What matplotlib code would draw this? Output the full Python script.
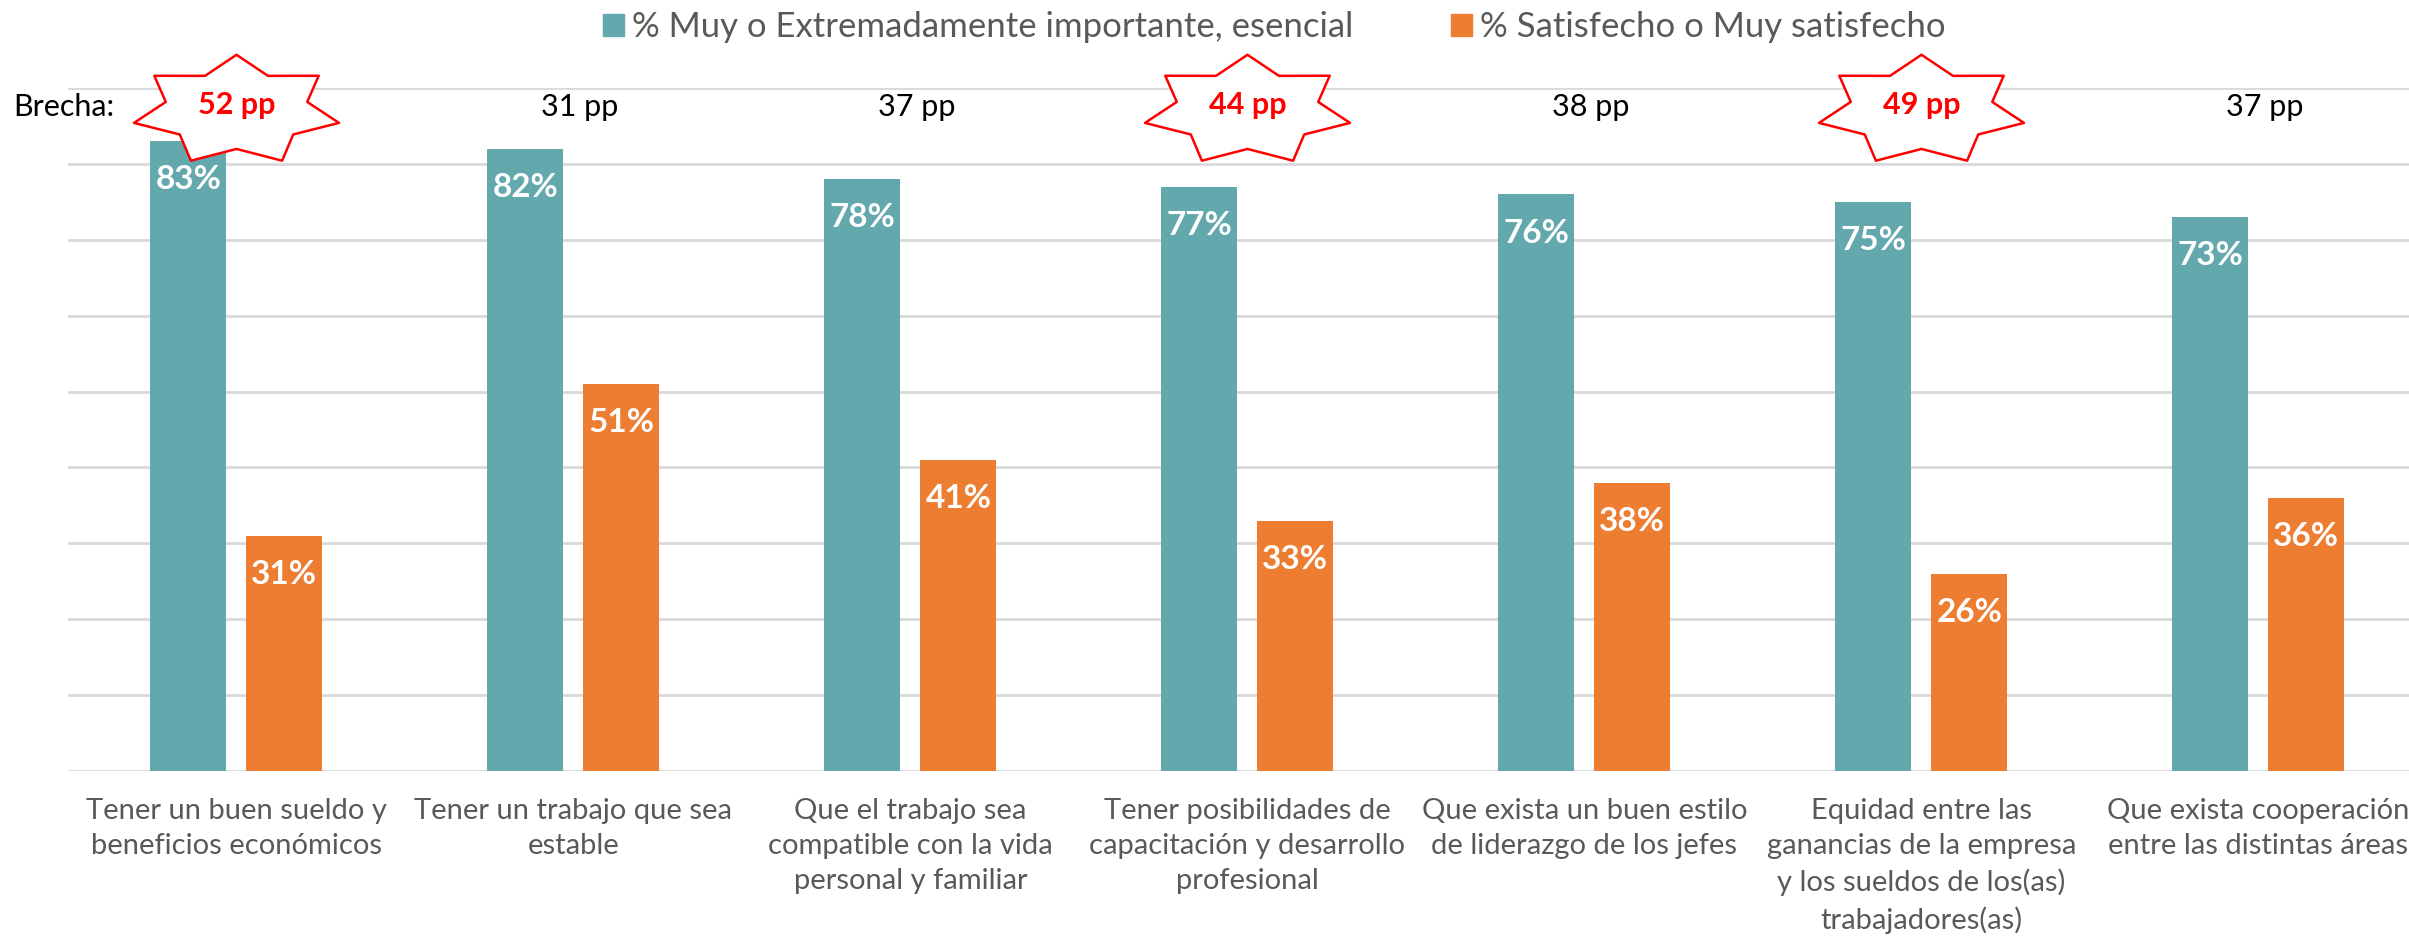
import numpy as np
import matplotlib
matplotlib.use('Agg')
import matplotlib.pyplot as plt
from matplotlib.path import Path
from matplotlib.patches import Patch

plt.rcParams['font.family'] = ['Lato', 'DejaVu Sans']

# Data
categories = [
    'Tener un buen sueldo y\nbeneficios económicos',
    'Tener un trabajo que sea\nestable',
    'Que el trabajo sea\ncompatible con la vida\npersonal y familiar',
    'Tener posibilidades de\ncapacitación y desarrollo\nprofesional',
    'Que exista un buen estilo\nde liderazgo de los jefes',
    'Equidad entre las\nganancias de la empresa\ny los sueldos de los(as)\ntrabajadores(as)',
    'Que exista cooperación\nentre las distintas áreas',
]
importante = [83, 82, 78, 77, 76, 75, 73]
satisfecho = [31, 51, 41, 33, 38, 26, 36]
brecha = [52, 31, 37, 44, 38, 49, 37]
destacar = [True, False, False, True, False, True, False]

label_imp = '% Muy o Extremadamente importante, esencial'
label_sat = '% Satisfecho o Muy satisfecho'

teal = '#62A8AC'
orange = '#ED7D31'
grey_text = '#595959'
grid_col = '#D9D9D9'

fig = plt.figure(figsize=(24.09, 9.43), dpi=100)
ax = fig.add_axes([0.0282, 0.1824, 0.9792, 0.7243])

x = np.arange(len(categories))
w = 0.2255
off = 0.1424

b1 = ax.bar(x - off, importante, w, color=teal, zorder=2)
b2 = ax.bar(x + off, satisfecho, w, color=orange, zorder=2)

# value labels inside the bars
for bars, vals in [(b1, importante), (b2, satisfecho)]:
    for rect, v in zip(bars, vals):
        ax.annotate(f'{v}%', xy=(rect.get_x() + rect.get_width() / 2, v),
                    xytext=(0, -28), textcoords='offset points',
                    ha='center', va='center', color='white',
                    fontsize=24, fontweight='bold', zorder=4)

ax.set_xlim(-0.5, len(categories) - 0.5)
ax.set_ylim(0, 90)
ax.set_yticks(np.arange(0, 91, 10))
ax.yaxis.grid(True, color=grid_col, linewidth=2, zorder=0)
ax.set_axisbelow(True)
ax.tick_params(axis='y', left=False, labelleft=False)
ax.tick_params(axis='x', bottom=False, pad=16)
for s in ax.spines.values():
    s.set_visible(False)

ax.set_xticks(x)
ax.set_xticklabels(categories, fontsize=21, color=grey_text, linespacing=1.43)

# 7 point star used as callout around the largest gaps
ang = np.pi / 2 + np.arange(14) * np.pi / 7
rad = np.where(np.arange(14) % 2 == 0, 1.0, 0.69)
verts = np.column_stack([rad * np.cos(ang), rad * np.sin(ang) * 0.53])
verts = np.vstack([verts, verts[:1]])
star = Path(verts, closed=True)

y_gap = 87.5
for xi, g, hl in zip(x, brecha, destacar):
    if hl:
        ax.plot([xi], [y_gap - 0.4], marker=star, markersize=147.6,
                markerfacecolor='white', markeredgecolor='#FF0000',
                markeredgewidth=1.8, linestyle='none', clip_on=False, zorder=3)
        ax.text(xi, y_gap + 0.3, f'{g} pp', ha='center', va='center',
                color='#FF0000', fontsize=22, fontweight='bold', zorder=4)
    else:
        ax.text(xi + 0.02, y_gap, f'{g} pp', ha='center', va='center',
                color='black', fontsize=22, zorder=4)

fig.text(13 / 2409, 1 - 107 / 943, 'Brecha:', ha='left', va='center',
         fontsize=22, color='black')

handles = [Patch(color=teal), Patch(color=orange)]
fig.legend(handles, [label_imp, label_sat], loc='center',
           bbox_to_anchor=(0.529, 0.971), ncol=2, frameon=False,
           fontsize=25, labelcolor=grey_text, handlelength=0.6,
           handleheight=0.6, handletextpad=0.25, columnspacing=2.8)

fig.savefig('out.png', dpi=100)
